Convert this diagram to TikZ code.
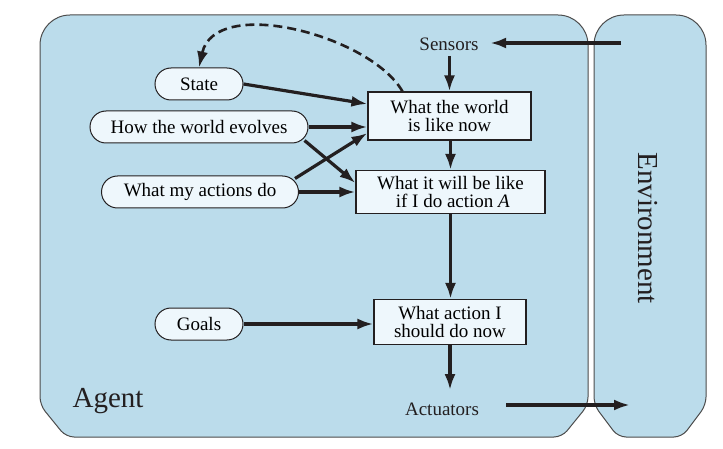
\documentclass[tikz,border=0pt]{standalone}
\usepackage{fontspec}
\setmainfont{Liberation Serif}
\usetikzlibrary{arrows.meta}
\definecolor{agentblue}{RGB}{187,220,235}
\definecolor{boxfill}{RGB}{238,247,252}
\definecolor{inkdark}{RGB}{35,31,32}
\tikzset{
  outerbox/.style={draw=black!70, line width=1pt, fill=agentblue},
  stadium/.style={draw=inkdark, line width=1pt, fill=boxfill, rounded corners=16pt, minimum height=32pt, inner sep=0pt, font=\fontsize{19}{18.5}\selectfont},
  rulebox/.style={draw=inkdark, line width=1.1pt, fill=boxfill, align=center, inner sep=0pt, font=\fontsize{19}{18.5}\selectfont},
  plain/.style={text=inkdark, font=\fontsize{19}{18.5}\selectfont},
  flow/.style={draw=inkdark, line width=3.2pt, -{Latex[length=16pt,width=11pt]}}
}

\begin{document}
\begin{tikzpicture}[x=1pt, y=-1pt]
			%%%%% START %%%%%
			\useasboundingbox (0,0) rectangle (723,449);
			
			% agent and environment
			\draw[outerbox, rounded corners=8pt] (40,200) -- (40,405) -- (66,437) -- (562,437) -- (588,405) -- (588,200) [rounded corners=30pt] -- (588,15) -- (40,15) -- cycle;
			\draw[outerbox, rounded corners=8pt] (594,200) -- (594,405) -- (618,437) -- (682,437) -- (706,405) -- (706,200) [rounded corners=30pt] -- (706,15) -- (594,15) -- cycle;
			\node[text=inkdark, font=\fontsize{29}{29}\selectfont] (agent) at (108,401) {Agent};
			\node[text=inkdark, font=\fontsize{29}{29}\selectfont, rotate=-90] (env) at (648,228) {Environment};
			
			% inputs on the left
			\node[stadium, minimum width=88pt] (state) at (199,84) {State};
			\node[stadium, minimum width=218pt] (evolves) at (199,127) {How the world evolves};
			\node[stadium, minimum width=197pt] (actions) at (200,192) {What my actions do};
			\node[stadium, minimum width=88pt] (goals) at (199,324) {Goals};
			
			% boxes in the middle
			\node[plain] (sensors) at (449,44) {Sensors};
			\node[rulebox, minimum width=163pt, minimum height=48pt] (world) at (449.5,116) {What the world\\is like now};
			\node[rulebox, minimum width=189pt, minimum height=43pt] (willbe) at (450.5,192) {What it will be like\\\ if I do action \textit{A}};
			\node[rulebox, minimum width=152pt, minimum height=45pt] (choose) at (450,322) {What action I\\should do now};
			\node[plain] (actuators) at (442,409) {Actuators};
			
			\coordinate (sensin) at (621,43);
			\coordinate (actout) at (630,405);
			
			% arrows
			\draw[flow] (sensin) -- ([xshift=8pt,yshift=1pt]sensors.east);
			\draw[flow] ([yshift=-2pt]sensors.south -| world.north) -- (world.north);
			\draw[flow] (state.east) -- ([yshift=12pt]world.west);
			\draw[flow] (evolves.east) -- ([yshift=-11pt]world.west);
			\draw[flow] ([xshift=-4pt,yshift=3pt]evolves.south east) -- ([yshift=9pt]willbe.west);
			\draw[flow] ([xshift=-4pt,yshift=-3pt]actions.north east) -- ([yshift=-17pt]world.west);
			\draw[flow] (actions.east) -- (willbe.west);
			\draw[flow] (world.south -| willbe.north) -- (willbe.north);
			\draw[flow] (willbe.south) -- (willbe.south |- choose.north);
			\draw[flow] (goals.east) -- (goals.east -| choose.west);
			\draw[flow, shorten >=9pt] (choose.south) -- (choose.south |- actuators.north);
			\draw[flow] ([xshift=24pt,yshift=4pt]actuators.east) -- (actout);
			\draw[draw=inkdark, line width=2.6pt, dash pattern=on 9pt off 5pt, -{Latex[length=16pt,width=11pt]}] ([xshift=-47pt]world.north) .. controls (370,35) and (215,-5) .. (state.north);
			
			%%%%% END %%%%%
\end{tikzpicture}
\end{document}
